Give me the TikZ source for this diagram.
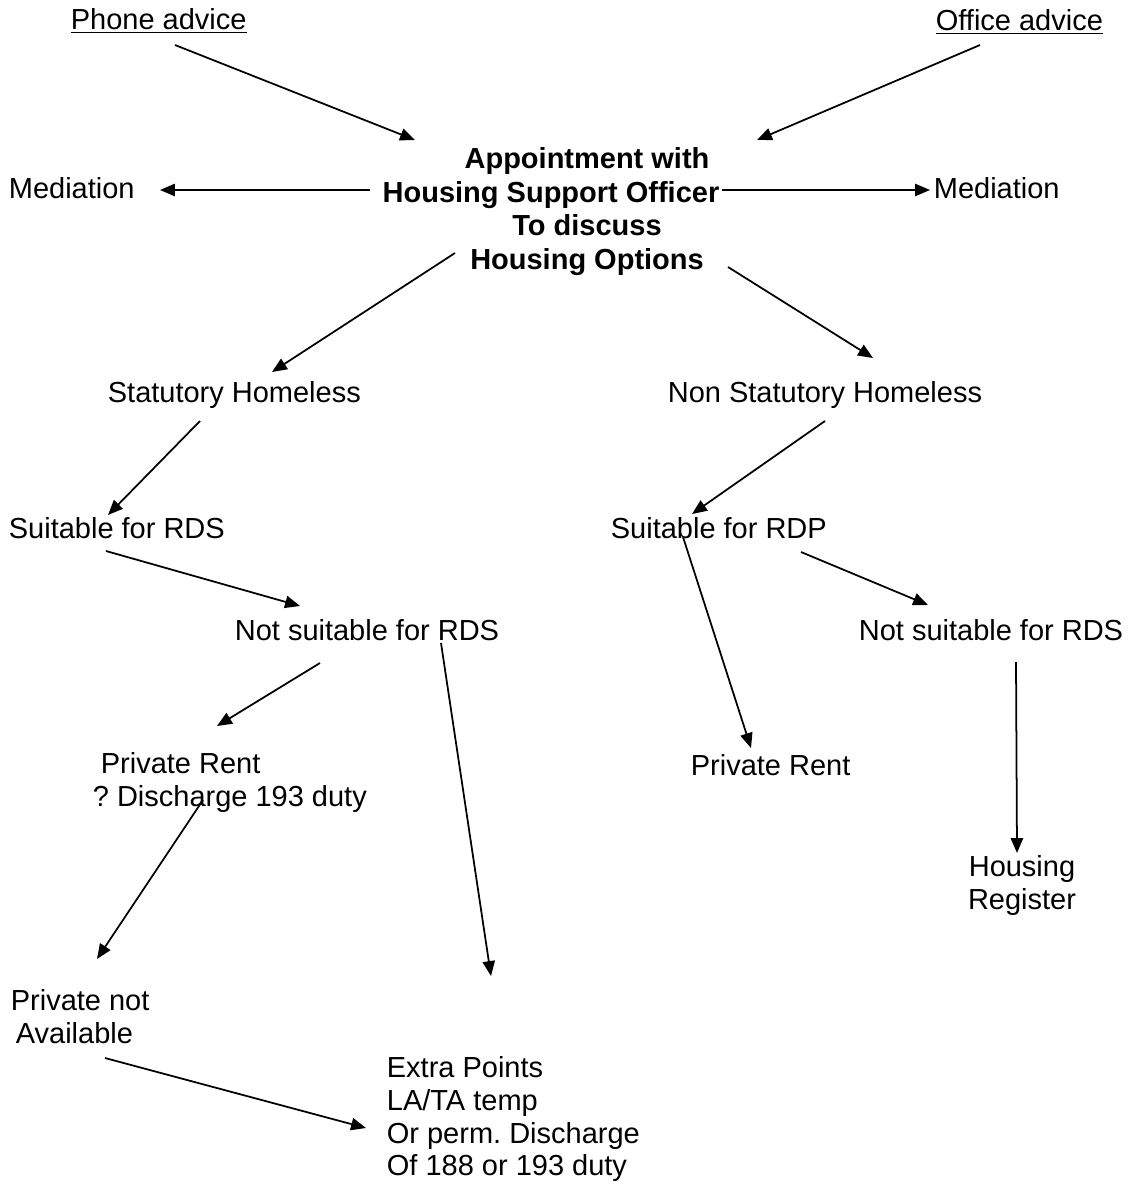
\documentclass[tikz,border=0pt]{standalone}
\usepackage{fontspec}
\setmainfont{Liberation Sans}
\usetikzlibrary{arrows.meta}
\begin{document}
\frenchspacing
\begin{tikzpicture}[x = 0.02cm, y = -0.02cm, line width = 1pt,
        every node/.style = {inner sep = 0pt, font = \fontsize{16.5}{18.6}\selectfont},
        txt/.style = {anchor = base west},
        multi/.style = {anchor = north west, align = left},
        link/.style = {-{Triangle[length = 8.5pt, width = 7pt]}}]
            \useasboundingbox (0,0) rectangle (1135,1186);
            \node[txt] (phone) at (70,30) {\underline{Phone advice}};
            \node[txt] (office) at (935,31) {\underline{Office advice}};
            \node[anchor = north, align = center, font = \fontsize{16.5}{19}\selectfont\bfseries] (hso) at (587,147)
                {Appointment with\\Housing Support Officer\rule{1.44cm}{0pt}\\To discuss\\Housing Options};
            \node[txt] (medl) at (8,198) {Mediation};
            \node[txt] (medr) at (933,198) {Mediation};
            \node[txt] (stat) at (107,402) {Statutory Homeless};
            \node[txt] (nonstat) at (667,402) {Non Statutory Homeless};
            \node[txt] (rds) at (8,538) {Suitable for RDS};
            \node[txt] (rdp) at (610,538) {Suitable for RDP};
            \node[txt] (nsl) at (234,640) {Not suitable for RDS};
            \node[txt] (nsr) at (858,640) {Not suitable for RDS};
            \node[multi] (prl) at (92,752) {\hspace*{0.16cm}Private Rent\\? Discharge 193 duty};
            \node[txt] (prr) at (690,775) {Private Rent};
            \node[anchor = north, align = center] (reg) at (1022,855) {Housing\\Register};
            \node[multi] (pna) at (10,989) {Private not\\\hspace*{0.1cm}Available};
            \node[multi] (extra) at (386,1056) {Extra Points\\LA/TA temp\\Or perm. Discharge\\Of 188 or 193 duty};

            \draw[link] ([shift = {(105,15)}]phone.base west) -- ([shift = {(-172,-7)}]hso.north);
            \draw[link] ([shift = {(45,14)}]office.base west) -- ([shift = {(170,-7)}]hso.north);
            \draw[link] ([shift = {(-217,43)}]hso.north) -- ([shift = {(152,-8)}]medl.base west);
            \draw[link] ([shift = {(135,43)}]hso.north) -- ([shift = {(-3,-8)}]medr.base west);
            \draw[link] ([shift = {(-132,106)}]hso.north) -- ([shift = {(165,-30)}]stat.base west);
            \draw[link] ([shift = {(141,120)}]hso.north) -- ([shift = {(206,-44)}]nonstat.base west);
            \draw[link] ([shift = {(93,19)}]stat.base west) -- ([shift = {(100,-23)}]rds.base west);
            \draw[link] ([shift = {(158,19)}]nonstat.base west) -- ([shift = {(82,-24)}]rdp.base west);
            \draw[link] ([shift = {(98,13)}]rds.base west) -- ([shift = {(66,-34)}]nsl.base west);
            \draw[link] ([shift = {(86,23)}]nsl.base west) -- ([shift = {(125,-26)}]prl.north west);
            \draw[link] ([shift = {(207,3)}]nsl.base west) -- ([shift = {(105,-80)}]extra.north west);
            \draw[link] ([shift = {(111,48)}]prl.north west) -- ([shift = {(87,-30)}]pna.north west);
            \draw[link] ([shift = {(95,69)}]pna.north west) -- ([shift = {(-20,72)}]extra.north west);
            \draw[link] ([shift = {(73,-1)}]rdp.base west) -- ([shift = {(61,-27)}]prr.base west);
            \draw[link] ([shift = {(191,14)}]rdp.base west) -- ([shift = {(70,-35)}]nsr.base west);
            \draw[link] ([shift = {(158,22)}]nsr.base west) -- ([shift = {(-5,-2)}]reg.north);
        \end{tikzpicture}
\end{document}
